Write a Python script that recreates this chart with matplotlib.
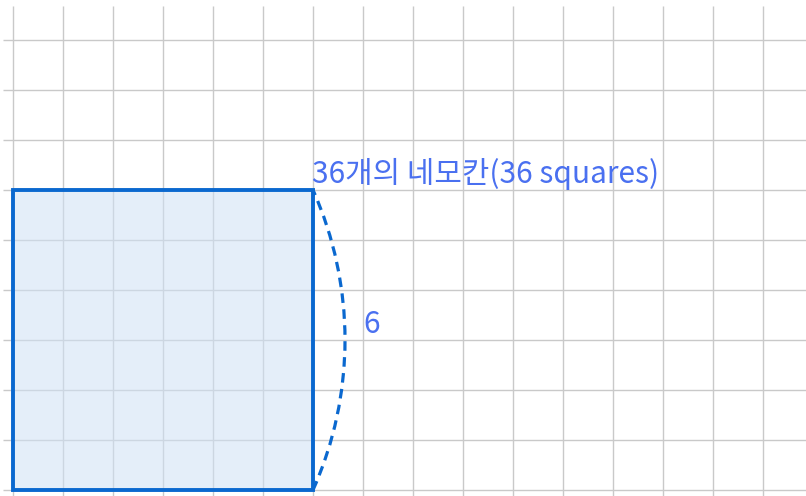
import numpy as np
import matplotlib
matplotlib.use("Agg")
import matplotlib.pyplot as plt
from matplotlib.patches import Rectangle, Arc

plt.rcParams['font.family'] = ['Noto Sans CJK KR', 'DejaVu Sans']

# data
side = 6
n_squares = side * side
label_text = f"{n_squares}개의 네모칸({n_squares} squares)"
side_label = str(side)
grid_x = list(range(0, 16))
grid_y = list(range(0, 10))

fig = plt.figure(figsize=(8.06, 4.96), dpi=100)
ax = fig.add_axes([0, 0, 1, 1])
ax.set_xlim(-0.26, 15.86)
ax.set_ylim(-0.12, 9.8)
ax.set_aspect('equal')
ax.axis('off')

grid_color = '#c9c9c9'
ax.vlines(grid_x, -0.12, 9.68, colors=grid_color, linewidth=1.0, zorder=1)
ax.hlines(grid_y, -0.2, 15.86, colors=grid_color, linewidth=1.0, zorder=1)

edge = '#0a68cf'
ax.add_patch(Rectangle((0, 0), side, side, facecolor='#cfe1f5', alpha=0.55,
                       edgecolor='none', zorder=2))
ax.add_patch(Rectangle((0, 0), side, side, facecolor='none',
                       edgecolor=edge, linewidth=2.8, zorder=3))

# bulging arc along right side
sag = 0.64
r = ((side / 2) ** 2 + sag ** 2) / (2 * sag)
cx = side + sag - r
half = np.degrees(np.arcsin((side / 2) / r))
ax.add_patch(Arc((cx, side / 2), 2 * r, 2 * r, theta1=-half, theta2=half,
                 edgecolor=edge, linewidth=2.3, linestyle=(0, (3, 2)), zorder=3))

txt_color = '#4a70f0'
ax.text(side - 0.02, side + 0.14, label_text, color=txt_color, fontsize=21.5,
        ha='left', va='baseline', zorder=4)
ax.text(side + 1.0, side / 2 + 0.14, side_label, color=txt_color, fontsize=21.5,
        ha='left', va='baseline', zorder=4)

fig.savefig('out.png', dpi=100)
